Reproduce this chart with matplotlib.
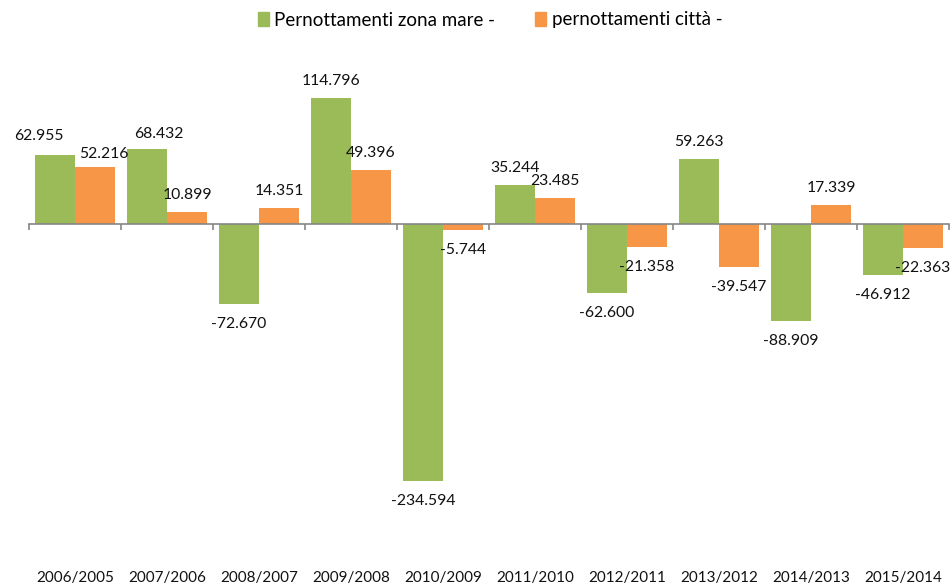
import numpy as np
import matplotlib
matplotlib.use("Agg")
from matplotlib import pyplot as plt
from matplotlib.patches import Patch

plt.rcParams['font.family'] = ['Lato', 'DejaVu Sans']

# dati (migliaia)
periodi = ["2006/2005", "2007/2006", "2008/2007", "2009/2008", "2010/2009",
           "2011/2010", "2012/2011", "2013/2012", "2014/2013", "2015/2014"]
mare = [62.955, 68.432, -72.670, 114.796, -234.594, 35.244, -62.600, 59.263, -88.909, -46.912]
citta = [52.216, 10.899, 14.351, 49.396, -5.744, 23.485, -21.358, -39.547, 17.339, -22.363]

verde = "#9BBB59"
arancio = "#F79646"

def fmt(v):
    # formato italiano: punto come separatore
    return f"{v:.3f}"

# spostamenti manuali etichette (pixel) come nel grafico originale
spost_mare = {0: (-16, 19), 1: (12, 15)}
spost_citta = {0: (9, 13)}

fig = plt.figure(figsize=(9.51, 5.87), dpi=100)
ax = fig.add_axes([29/951, 47/587, 920/951, 480/587])

x = np.arange(len(periodi))
w = 0.435
b1 = ax.bar(x - w/2, mare, w, color=verde, zorder=2)
b2 = ax.bar(x + w/2, citta, w, color=arancio, zorder=2)

ax.set_xlim(-0.5, len(periodi) - 0.5)
ax.set_ylim(-288.3, 149.6)

for s in ["top", "right", "left"]:
    ax.spines[s].set_visible(False)
ax.spines["bottom"].set_position(("data", 0))
ax.spines["bottom"].set_color("#868686")
ax.spines["bottom"].set_linewidth(1.2)
ax.set_yticks([])
ax.set_xticks(np.arange(-0.5, len(periodi), 1.0))
ax.set_xticklabels([])
ax.tick_params(axis="x", direction="out", length=4, width=1.2, color="#868686")

def etichette(bars, valori, spost):
    for i, (b, v) in enumerate(zip(bars, valori)):
        dx, dy = spost.get(i, (0, 17 if v >= 0 else -20))
        ax.annotate(fmt(v), (b.get_x() + b.get_width()/2, v),
                    xytext=(dx*0.72, dy*0.72), textcoords="offset points",
                    ha="center", va="center", fontsize=11.3, color="#111111",
                    zorder=3)

etichette(b1, mare, spost_mare)
etichette(b2, citta, spost_citta)

for i, p in enumerate(periodi):
    fig.text((29 + 92*i + 46)/951, 9/587, p, ha="center", va="center",
             fontsize=11, color="#111111")

handles = [Patch(color=verde), Patch(color=arancio)]
fig.legend(handles, ["Pernottamenti zona mare -", "pernottamenti città -"],
           loc="center", bbox_to_anchor=(490/951, 1 - 20/587), ncol=2,
           frameon=False, fontsize=13.5, handlelength=0.6, handleheight=0.7,
           handletextpad=0.3, columnspacing=2.1)

plt.savefig("out.png", dpi=100)
